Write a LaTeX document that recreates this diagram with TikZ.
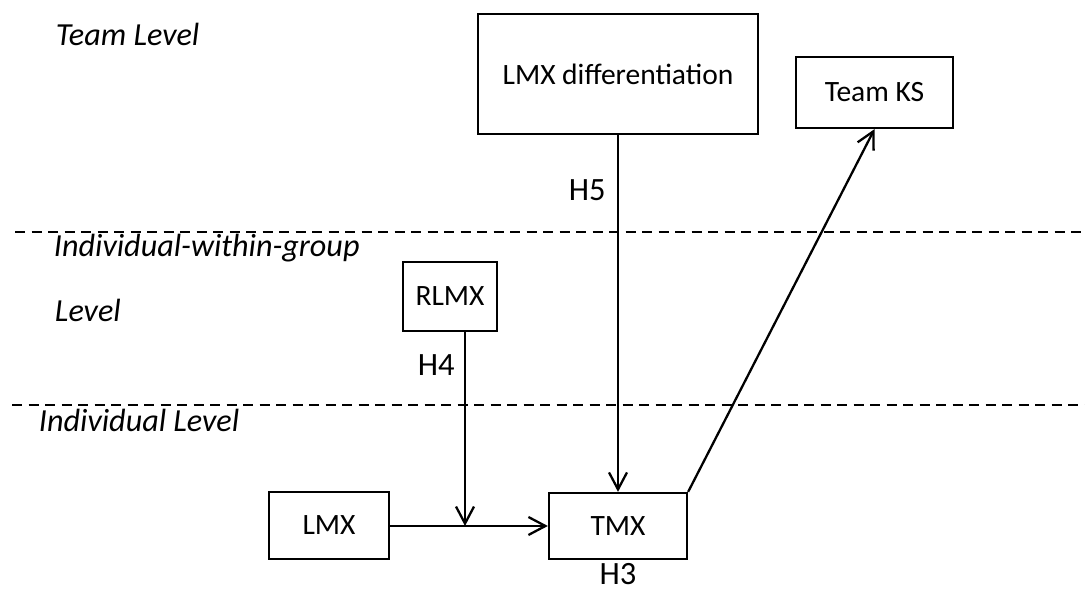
\documentclass[tikz,border=0pt]{standalone}
\usepackage{fontspec}
\setmainfont{Carlito}
\usetikzlibrary{arrows.meta,positioning}

\begin{document}
\begin{tikzpicture}[line width=1.3pt,font=\fontsize{16.8}{20}\selectfont,
  >={Straight Barb[length=3.4mm,width=3.6mm]}]
\tikzstyle{box}=[draw,rectangle,inner sep=0pt]
\tikzstyle{level}=[anchor=west,font=\fontsize{18.3}{22}\selectfont\itshape]
\tikzstyle{hyp}=[font=\fontsize{18.5}{22}\selectfont]
\tikzstyle{sep}=[dash pattern=on 2mm off 1.3mm]
\useasboundingbox (0,0) rectangle (21.7,11.84);
% levels
\draw[sep] (0.3,7.2) -- (21.7,7.2);
\draw[sep] (0.24,3.74) -- (21.7,3.74);
\node[level] (tl) at (0.98,11.16) {Team Level};
\node[level] (iwg) at (0.94,6.88) {Individual-within-group};
\node[level] (iwgl) at (0.96,5.64) {Level};
\node[level] (il) at (0.64,3.44) {Individual Level};
% constructs
\node[box,minimum width=5.6cm,minimum height=2.4cm] (LMXd) at (12.36,10.36) {LMX differentiation};
\node[box,minimum width=3.14cm,minimum height=1.42cm] (TeamKS) at (17.49,9.99) {Team KS};
\node[box,minimum width=1.88cm,minimum height=1.38cm] (RLMX) at (9.0,5.91) {RLMX};
\node[box,minimum width=2.4cm,minimum height=1.34cm] (LMX) at (6.58,1.33) {LMX};
\node[box,minimum width=2.76cm,minimum height=1.32cm] (TMX) at (12.36,1.32) {TMX};
\coordinate (jn) at (9.3,1.32);
% paths
\draw[->] (LMX.east |- jn) -- (TMX.west);
\draw[->] (RLMX.south -| jn) -- (jn);
\draw[->] (LMXd.south) -- (TMX.north);
\draw[->] (TMX.north east) -- (TeamKS.south);
% hypotheses
\node[hyp,anchor=east] (h5) at (12.25,8.04) {H5};
\node[hyp,anchor=east] (h4) at (9.23,4.54) {H4};
\node[hyp,inner sep=0pt,below=0.04cm of TMX] (h3) {H3};
\end{tikzpicture}
\end{document}
